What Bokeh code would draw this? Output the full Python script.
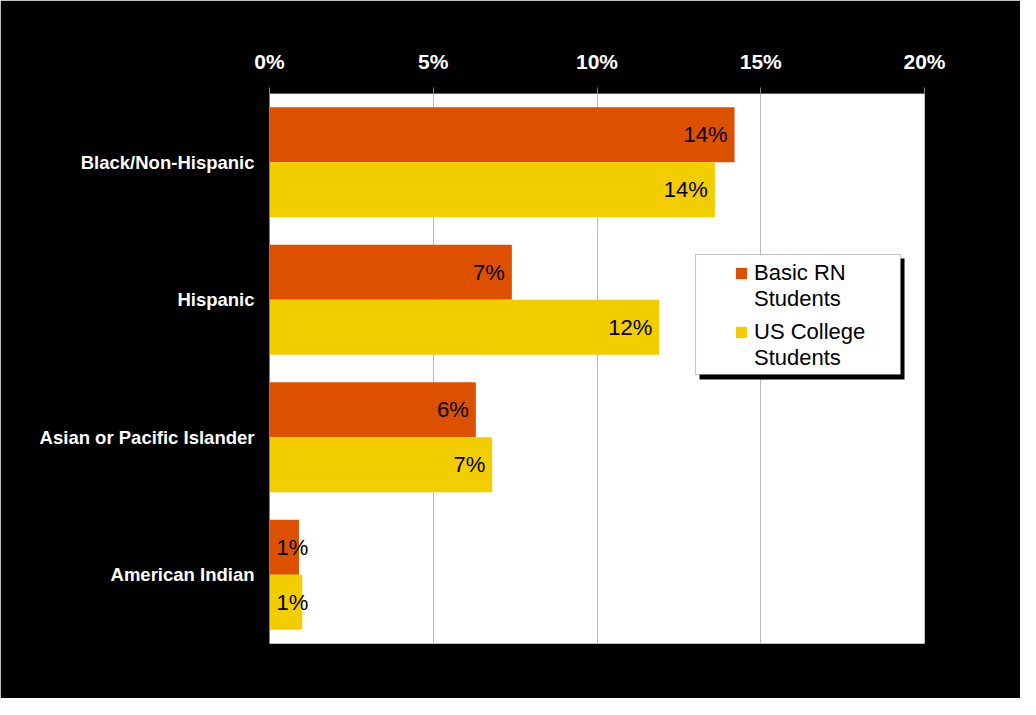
from bokeh.plotting import figure
from bokeh.models import (ColumnDataSource, FactorRange, Range1d, Legend, LegendItem,
                          BoxAnnotation, FixedTicker)
from bokeh.transform import dodge
from bokeh.core.properties import value
from bokeh.embed import file_html
from bokeh.resources import INLINE

categories = ["Black/Non-Hispanic", "Hispanic", "Asian or Pacific Islander", "American Indian"]
basic_rn = [14.2, 7.4, 6.3, 0.9]
us_college = [13.6, 11.9, 6.8, 1.0]
x_ticks = [0, 5, 10, 15, 20]
x_tick_labels = ["0%", "5%", "10%", "15%", "20%"]
series_names = [["Basic RN", "Students"], ["US College", "Students"]]

ORANGE = "#DD5000"
YELLOW = "#F2CE00"
FONT = "Liberation Sans"


def label_cols(vals):
    xs, al, off = [], [], []
    for v in vals:
        if v >= 2:
            xs.append(v); al.append("right"); off.append(-7)
        else:
            xs.append(0); al.append("left"); off.append(7)
    return xs, al, off


rn_x, rn_al, rn_off = label_cols(basic_rn)
col_x, col_al, col_off = label_cols(us_college)

src = ColumnDataSource(dict(
    cat=categories,
    rn=basic_rn, col=us_college,
    rn_lbl=[f"{round(v)}%" for v in basic_rn],
    col_lbl=[f"{round(v)}%" for v in us_college],
    rn_x=rn_x, rn_al=rn_al, rn_off=rn_off,
    col_x=col_x, col_al=col_al, col_off=col_off,
))

p = figure(width=1020, height=698,
           y_range=FactorRange(*list(reversed(categories))),
           x_range=Range1d(0, 20), x_axis_location="above",
           output_backend="svg", toolbar_location=None,
           min_border_left=269, min_border_right=96,
           min_border_top=93, min_border_bottom=55)

p.background_fill_color = "white"
p.border_fill_color = "black"
p.outline_line_color = None

r1 = p.hbar(y=dodge("cat", 0.2, range=p.y_range), right="rn", left=0, height=0.4,
            fill_color=ORANGE, line_color=None, source=src)
r2 = p.hbar(y=dodge("cat", -0.2, range=p.y_range), right="col", left=0, height=0.4,
            fill_color=YELLOW, line_color=None, source=src)
# invisible renderer used for the second line of each legend entry
r_blank = p.hbar(y=dodge("cat", -0.2, range=p.y_range), right="col", left=0, height=0.4,
                 fill_alpha=0, line_alpha=0, source=src)

p.text(x="rn_x", y=dodge("cat", 0.2, range=p.y_range), text="rn_lbl",
       text_align="rn_al", x_offset="rn_off", text_baseline="middle",
       text_font=value(FONT), text_font_size="22px", text_color="black",
       source=src)
p.text(x="col_x", y=dodge("cat", -0.2, range=p.y_range), text="col_lbl",
       text_align="col_al", x_offset="col_off", text_baseline="middle",
       text_font=value(FONT), text_font_size="22px", text_color="black",
       source=src)

# axes
xa = p.xaxis[0]
xa.ticker = FixedTicker(ticks=x_ticks)
xa.major_label_overrides = {t: l for t, l in zip(x_ticks, x_tick_labels)}
xa.minor_tick_line_color = None
xa.major_tick_in = 0
xa.major_tick_out = 6
xa.major_tick_line_color = "#808080"
xa.axis_line_color = "#606060"
xa.major_label_standoff = 15
xa.major_label_text_font = FONT
xa.major_label_text_font_style = "bold"
xa.major_label_text_font_size = "21px"
xa.major_label_text_color = "white"

ya = p.yaxis[0]
ya.major_tick_line_color = None
ya.minor_tick_line_color = None
ya.major_tick_out = 0
ya.major_tick_in = 0
ya.axis_line_color = "#808080"
ya.major_label_standoff = 15
ya.major_label_text_font = FONT
ya.major_label_text_font_style = "bold"
ya.major_label_text_font_size = "18.5px"
ya.major_label_text_color = "white"

p.xgrid.ticker = FixedTicker(ticks=x_ticks)
p.xgrid.grid_line_color = "#BBBBBB"
p.ygrid.grid_line_color = None

# legend box with shadow
shadow = BoxAnnotation(left=13.13, right=19.39, bottom=1.92, top=2.80,
                       fill_color="black", fill_alpha=1.0, line_color=None)
box = BoxAnnotation(left=13.01, right=19.27, bottom=1.956, top=2.829,
                    fill_color="white", fill_alpha=1.0, line_color="#404040", line_width=1)
p.add_layout(shadow)
p.add_layout(box)


def make_legend(renderer, lines, loc):
    return Legend(items=[LegendItem(label=lines[0], renderers=[renderer]),
                         LegendItem(label=lines[1], renderers=[r_blank])],
                  location=loc, padding=0, margin=0, spacing=0,
                  glyph_width=14, glyph_height=14, label_standoff=6,
                  label_height=24,
                  label_text_font=FONT, label_text_font_size="22px",
                  label_text_color="black", border_line_color=None,
                  background_fill_alpha=0, inactive_fill_alpha=0)


p.add_layout(make_legend(r1, series_names[0], (465, 331)), "center")
p.add_layout(make_legend(r2, series_names[1], (465, 272)), "center")

open("out.html", "w").write(file_html(p, INLINE))
